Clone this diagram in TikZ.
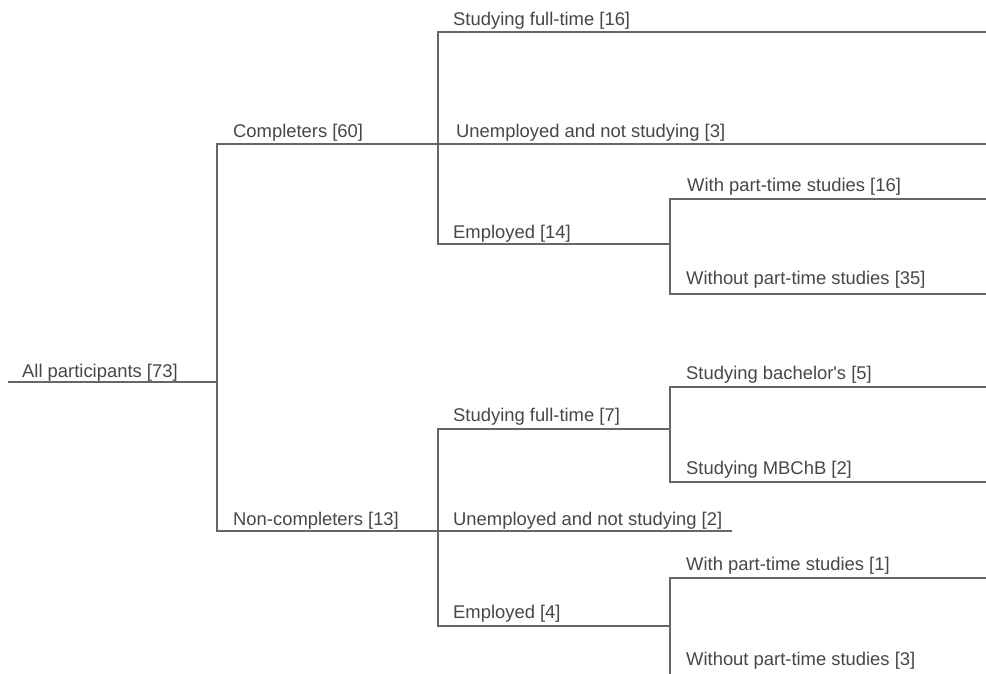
\documentclass[tikz,border=0pt]{standalone}
\usepackage{fontspec}
\setmainfont{Liberation Sans}
\newfontfamily\lbfont{Liberation Sans}
\definecolor{linegray}{HTML}{666666}
\definecolor{textgray}{HTML}{474747}
\tikzset{
  branch/.style={draw=linegray, line width=2.6pt, line join=miter, line cap=butt},
  lbl/.style={anchor=base west, inner sep=0pt, text=textgray, font=\lbfont\fontsize{18.4}{21}\selectfont}
}
\begin{document}
\begin{tikzpicture}[x=1pt,y=-1pt]
\useasboundingbox (0,0) rectangle (986,673);
\fill[white] (0,0) rectangle (986,673);
\clip (0,0) rectangle (986,673);
% coordinates
\coordinate (r0) at (8,382);
\coordinate (r1) at (217,382);
\coordinate (c0) at (217,144);
\coordinate (c1) at (438,144);
\coordinate (n0) at (217,531);
\coordinate (n1) at (438,531);
% completers children
\coordinate (cs) at (438,32);   \coordinate (csE) at (990,32);
\coordinate (cuE) at (990,144);
\coordinate (ce) at (438,244);  \coordinate (ceE) at (670,244);
\coordinate (cw) at (670,199);  \coordinate (cwE) at (990,199);
\coordinate (co) at (670,294);  \coordinate (coE) at (990,294);
% non-completers children
\coordinate (ns) at (438,429);  \coordinate (nsE) at (670,429);
\coordinate (nuE) at (732,531);
\coordinate (ne) at (438,626);  \coordinate (neE) at (670,626);
\coordinate (nb) at (670,387);  \coordinate (nbE) at (990,387);
\coordinate (nm) at (670,482);  \coordinate (nmE) at (990,482);
\coordinate (nw) at (670,578);  \coordinate (nwE) at (990,578);
\coordinate (no) at (670,677);  \coordinate (noE) at (990,677);
% connectors
\draw[branch] (r0) -- (r1);
\draw[branch] (c1) -- (c0) -- (n0) -- (n1);
\draw[branch] (csE) -- (cs) -- (ce) -- (ceE);
\draw[branch] (c1) -- (cuE);
\draw[branch] (cwE) -- (cw) -- (co) -- (coE);
\draw[branch] (nsE) -- (ns) -- (ne) -- (neE);
\draw[branch] (n1) -- (nuE);
\draw[branch] (nbE) -- (nb) -- (nm) -- (nmE);
\draw[branch] (nwE) -- (nw) -- (no) -- (noE);
% labels
\node[lbl] (tAll) at (22,377) {All participants [73]};
\node[lbl] (tComp) at (233,137) {Completers [60]};
\node[lbl] (tNon) at (233,525) {Non-completers [13]};
\node[lbl] (tCS) at (453,25) {Studying full-time [16]};
\node[lbl] (tCU) at (456,137) {Unemployed and not studying [3]};
\node[lbl] (tCE) at (453,238) {Employed [14]};
\node[lbl] (tCW) at (687,191) {With part-time studies [16]};
\node[lbl] (tCO) at (686,284) {Without part-time studies [35]};
\node[lbl] (tNS) at (453,421) {Studying full-time [7]};
\node[lbl] (tNB) at (686,379) {Studying bachelor's [5]};
\node[lbl] (tNM) at (686,474) {Studying MBChB [2]};
\node[lbl] (tNU) at (453,525) {Unemployed and not studying [2]};
\node[lbl] (tNW) at (686,570) {With part-time studies [1]};
\node[lbl] (tNE) at (453,618) {Employed [4]};
\node[lbl] (tNO) at (686,665) {Without part-time studies [3]};
\end{tikzpicture}
\end{document}
